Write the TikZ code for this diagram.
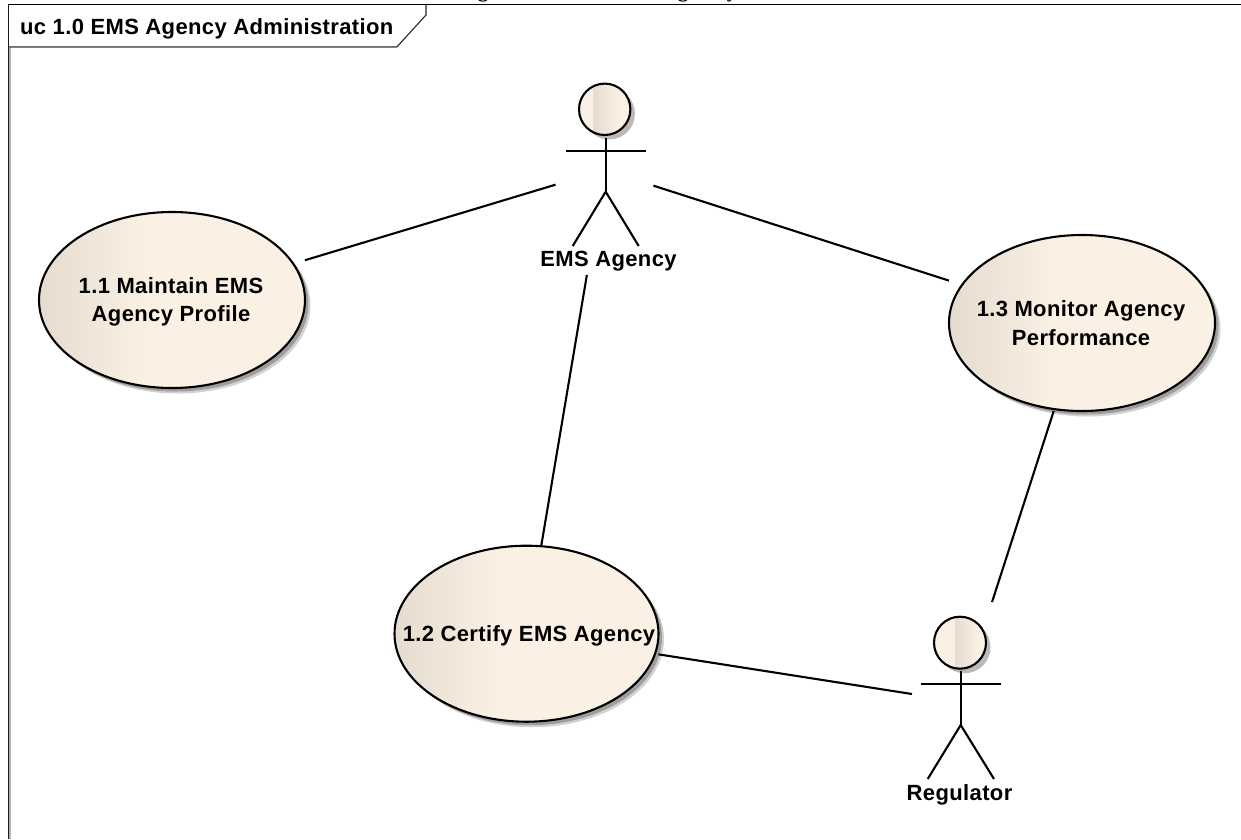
\documentclass[tikz,border=0pt]{standalone}
\usepackage{fontspec}
\setmainfont{Liberation Sans}
\newfontfamily\ucbold[LetterSpace=1.7]{Liberation Sans Bold}
\newfontfamily\capserif{Liberation Serif Bold}
\usetikzlibrary{shapes.geometric}
\definecolor{ucdark}{HTML}{E5DCCF}
\definecolor{uclight}{HTML}{FAF1E4}
\pgfdeclarehorizontalshading{ucshade}{100bp}{color(0bp)=(ucdark); color(25bp)=(ucdark); color(45bp)=(uclight); color(100bp)=(uclight)}
\pgfdeclarehorizontalshading{headA}{100bp}{color(0bp)=(uclight); color(38.4bp)=(uclight); color(38.6bp)=(ucdark); color(65bp)=(uclight); color(100bp)=(uclight)}
\pgfdeclarehorizontalshading{headB}{100bp}{color(0bp)=(uclight); color(45bp)=(uclight); color(45.2bp)=(ucdark); color(68bp)=(uclight); color(100bp)=(uclight)}
\tikzset{
  x=1pt,y=-1pt,
  frameline/.style={line width=1.5pt,draw=black!90},
  tabline/.style={line width=1.1pt,draw=black!85},
  conn/.style={line width=2.1pt,draw=black},
  limb/.style={line width=2.1pt,draw=black,line cap=butt},
  ucoutline/.style={line width=2.1pt,draw=black,shading=ucshade,shading angle=0},
  softshadow/.style={fill=black!18,draw=none},
  hardshadow/.style={fill=black!38,draw=none},
  headshadow/.style={fill=black!27,draw=none},
  ucbox/.style={rectangle,draw=none,fill=none,minimum width=266pt,minimum height=176pt,inner sep=0pt,outer sep=0pt},
  actorbox/.style={rectangle,draw=none,fill=none,inner sep=0pt,outer sep=0pt},
  uctext/.style={font=\ucbold\fontsize{22}{28.5}\selectfont,align=center,inner sep=0pt,text=black},
  cliptext/.style={font=\capserif\fontsize{21}{24}\selectfont,anchor=base,inner sep=0pt},
}
\newcommand{\usecasebody}[3]{%
  \fill[softshadow] (#1+5.5,#2+5.5) ellipse [x radius=#3,y radius=88];
  \fill[hardshadow] (#1+3.5,#2+3.5) ellipse [x radius=#3,y radius=88];
  \path[ucoutline] (#1,#2) ellipse [x radius=#3,y radius=88];
}
\begin{document}
\begin{tikzpicture}
\useasboundingbox (0,0) rectangle (1241,839);
\fill[white] (0,0) rectangle (1241,839);

% clipped descenders of the page caption
\node[cliptext] (capa) at (483,-3) {g};
\node[cliptext] (capb) at (683,-3) {g};
\node[cliptext] (capc) at (732,-3) {y};

% frame
\draw[line width=1.2pt,draw=black!30] (9.9,47.5) -- (9.9,839);
\draw[frameline] (8.7,4.6) -- (8.7,839);
\draw[line width=1.5pt,draw=black] (7.5,4.6) -- (1241,4.6);
\draw[line width=1pt,draw=black!30] (9,47.8) -- (397,47.8);
\draw[tabline] (8.7,46.8) -- (397,46.8) -- (426,15) -- (426,4.6);
\node[font=\ucbold\fontsize{22}{24}\selectfont,anchor=base west,inner sep=0pt,text=black] (title) at (20,34) {uc 1.0 EMS Agency Administration};

% use cases
\usecasebody{172}{300}{133}
\usecasebody{526.5}{633.7}{132}
\usecasebody{1082}{323}{133}
\node[ucbox] (u1) at (172,300) {};
\node[ucbox,minimum width=264pt] (u2) at (526.5,633.7) {};
\node[ucbox] (u3) at (1082,323) {};
\node[uctext] (t1) at (171,302) {1.1 Maintain EMS\\Agency Profile};
\node[uctext] (t2) at (529,635.5) {1.2 Certify EMS Agency};
\node[uctext] (t3) at (1081,323) {1.3 Monitor Agency\\Performance};

% actor boxes
\node[actorbox,minimum width=98pt,minimum height=210pt] (ems) at (604.5,170) {};
\node[actorbox,minimum width=96pt,minimum height=199pt] (reg) at (960,701.5) {};

% EMS Agency
\fill[headshadow] (609.2,113.8) circle [radius=25.7];
\path[line width=2.1pt,draw=black,shading=headA,shading angle=0] (604.7,109.3) circle [radius=25.7];
\draw[limb] (605.7,138) -- (605.7,191.7);
\draw[limb] (566,151) -- (645.7,151);
\draw[limb] (572.7,246) -- (605.7,191.7) -- (638.7,246);
\node[uctext,anchor=base] (emsl) at (608.5,266.7) {EMS Agency};

% Regulator
\fill[headshadow] (964.5,647.2) circle [radius=26];
\path[line width=2.1pt,draw=black,shading=headB,shading angle=0] (960,642.7) circle [radius=26];
\draw[limb] (960.7,670.7) -- (960.7,725);
\draw[limb] (921,684) -- (1000.7,684);
\draw[limb] (927.7,779) -- (960.7,725) -- (994,779);
\node[uctext,anchor=base] (regl) at (959.5,800) {Regulator};

% connectors
\draw[conn] (u1) -- (ems);
\draw[conn] (u3) -- (ems);
\draw[conn] (u2) -- (ems);
\draw[conn] (u3) -- (reg);
\draw[conn] (u2) -- (reg);
\end{tikzpicture}
\end{document}
